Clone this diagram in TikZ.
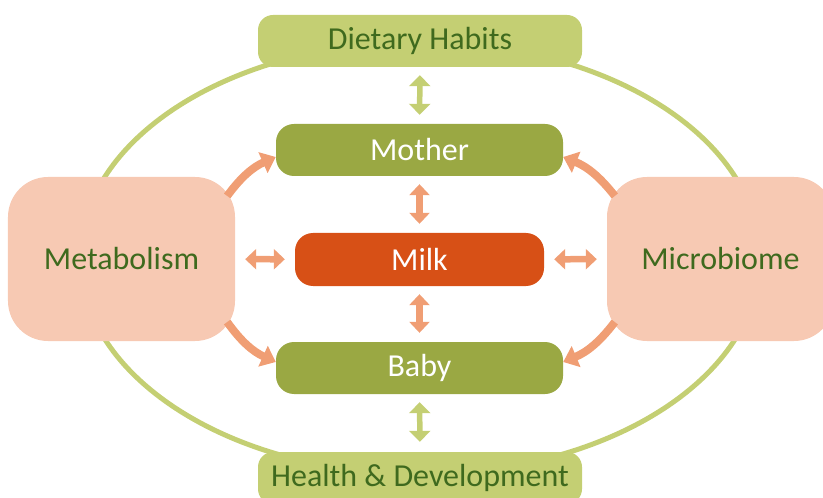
\documentclass[tikz,border=0pt]{standalone}
\usepackage{fontspec}
\setmainfont{Carlito}
\usepackage{tikz}
\usetikzlibrary{arrows.meta}
\definecolor{lightgreen}{HTML}{C4CF73}
\definecolor{olive}{HTML}{9AA843}
\definecolor{darkgreen}{HTML}{3F6A1E}
\definecolor{milkorange}{HTML}{D75016}
\definecolor{salmon}{HTML}{F09E74}
\definecolor{peach}{HTML}{F7C9B3}
\tikzset{
  txt/.style={font=\fontsize{32bp}{36bp}\selectfont},
  outerbox/.style={txt, rectangle, rounded corners=15bp, fill=lightgreen, text=darkgreen, minimum width=324bp, minimum height=52bp},
  innerbox/.style={txt, rectangle, rounded corners=18bp, fill=olive, text=white, minimum width=287bp, minimum height=52bp},
  milkbox/.style={txt, rectangle, rounded corners=18bp, fill=milkorange, text=white, minimum width=249bp, minimum height=53bp},
  sidebox/.style={txt, rectangle, rounded corners=40bp, fill=peach, text=darkgreen, minimum width=227bp, minimum height=164bp},
  garrow/.style={lightgreen, line width=5.5bp, {Triangle[width=21bp,length=11bp]}-{Triangle[width=21bp,length=11bp]}},
  sarrow/.style={salmon, line width=6.5bp, {Triangle[width=20bp,length=11bp]}-{Triangle[width=20bp,length=11bp]}},
  carrow/.style={salmon, line width=8bp, -{Triangle[width=22bp,length=14bp]}}
}
\begin{document}
\begin{tikzpicture}[x=1bp, y=-1bp]
    \useasboundingbox (0,0) rectangle (823,498);
    % ring
    \draw[lightgreen, line width=5bp] (420,258) ellipse [x radius=340, y radius=216];
    % boxes
    \node[outerbox] (diet) at (420,41) {Dietary Habits};
    \node[innerbox] (mother) at (419.5,150) {Mother};
    \node[milkbox] (milk) at (419.5,259.5) {Milk};
    \node[innerbox] (baby) at (419.5,368) {Baby};
    \node[outerbox] (health) at (420,478) {Health \& Development};
    \node[sidebox] (metab) at (121.5,259) {Metabolism};
    \node[sidebox] (micro) at (720.5,259) {Microbiome};
    % straight arrows
    \draw[garrow, shorten <=8bp, shorten >=9bp] (diet) -- (mother);
    \draw[sarrow, shorten <=8bp, shorten >=9bp] (mother) -- (milk);
    \draw[sarrow, shorten <=8bp, shorten >=9bp] (milk) -- (baby);
    \draw[garrow, shorten <=8bp, shorten >=10bp] (baby) -- (health);
    \draw[sarrow, shorten <=10bp, shorten >=10bp] (metab) -- (milk);
    \draw[sarrow, shorten <=10bp, shorten >=10bp] (micro) -- (milk);
    % curved arrows
    \draw[carrow] ([xshift=-8bp]metab.29) to[bend left=15] ([yshift=-7bp]mother.west);
    \draw[carrow] ([xshift=-8bp]metab.-29) to[bend right=15] ([yshift=6bp]baby.west);
    \draw[carrow] ([xshift=8bp]micro.151) to[bend right=15] ([yshift=-7bp]mother.east);
    \draw[carrow] ([xshift=8bp]micro.-151) to[bend left=15] ([yshift=6bp]baby.east);
\end{tikzpicture}
\end{document}
